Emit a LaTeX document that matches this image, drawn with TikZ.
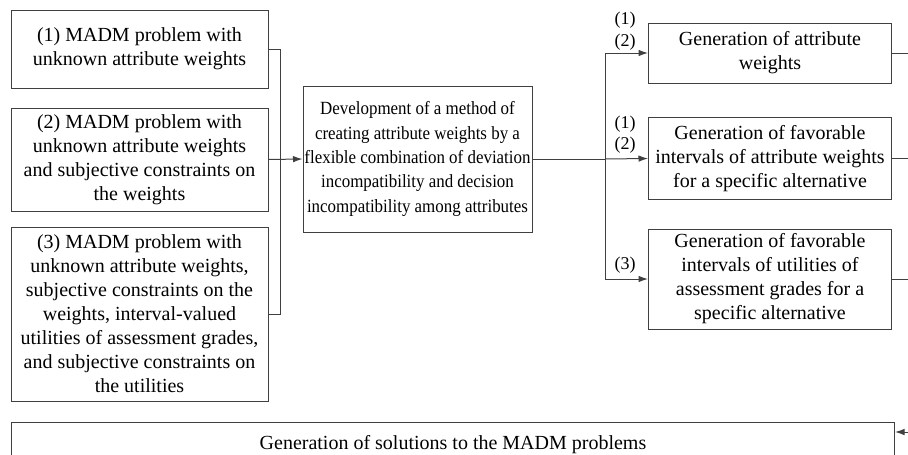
\documentclass[tikz,border=0pt]{standalone}
\usepackage{fontspec}
\setmainfont{Liberation Serif}
\newfontfamily\condserif[FakeStretch=0.91]{Liberation Serif}
\usetikzlibrary{arrows.meta,calc}
\begin{document}
\begin{tikzpicture}[x=1pt,y=-1pt,
  box/.style={draw=black!75,line width=1pt,align=center,inner xsep=1pt,inner ysep=2pt,
    font=\fontsize{20}{24}\selectfont},
  midbox/.style={box,font=\condserif\fontsize{18.6}{24.3}\selectfont,inner xsep=0pt},
  conn/.style={draw=black!75,line width=1pt},
  arr/.style={conn,-{Latex[length=9.5pt,width=6.5pt]}},
  lbl/.style={font=\fontsize{18}{20}\selectfont,inner sep=0pt}]
\useasboundingbox (0,0) rectangle (908,455);
\node[box,minimum width=257pt,minimum height=78pt] (b1) at (139.5,49)
  {(1) MADM problem with\\unknown attribute weights};
\node[box,minimum width=257pt,minimum height=103pt] (b2) at (139.5,159.5)
  {(2) MADM problem with\\unknown attribute weights\\and subjective constraints on\\the weights};
\node[box,minimum width=257pt,minimum height=174pt] (b3) at (139.5,314)
  {(3) MADM problem with\\unknown attribute weights,\\subjective constraints on the\\weights, interval-valued\\utilities of assessment grades,\\and subjective constraints on\\the utilities};
\node[midbox,minimum width=229pt,minimum height=146pt] (mid) at (417.5,159)
  {Development of a method of\\creating attribute weights by a\\flexible combination of deviation\\incompatibility and decision\\incompatibility among attributes};
\node[box,minimum width=243pt,minimum height=60pt] (r1) at (770,53)
  {Generation of attribute\\weights};
\node[box,minimum width=243pt,minimum height=82pt] (r2) at (770,158.5)
  {Generation of favorable\\intervals of attribute weights\\for a specific alternative};
\node[box,minimum width=243pt,minimum height=100pt] (r3) at (770,279)
  {Generation of favorable\\intervals of utilities of\\assessment grades for a\\specific alternative};
\node[box,minimum width=883pt,minimum height=48pt,anchor=north west] (bot) at (11,422)
  {\raisebox{9pt}{Generation of solutions to the MADM problems}};
% left bracket
\coordinate (jx) at (280,49);
\draw[conn] (b1.east) -- (jx) |- (b3.east);
\draw[arr] (b2.east) -- (mid.west);
% right split
\coordinate (sp) at (605,159);
\draw[conn] (mid.east) -- (sp);
\draw[arr] (sp) |- (r1.west);
\draw[arr] (sp) -- (r2.west);
\draw[arr] (sp) |- (r3.west);
% labels
\node[lbl] (l1a) at (625,20) {(1)};
\node[lbl] (l1b) at (625,42) {(2)};
\node[lbl] (l2a) at (625,124) {(1)};
\node[lbl] (l2b) at (625,145) {(2)};
\node[lbl] (l3) at (625,265) {(3)};
% outputs to the right edge
\coordinate (edge) at (915,0);
\draw[conn] (r1.east) -- (r1.east -| edge);
\draw[conn] (r2.east) -- (r2.east -| edge);
\draw[conn] (r3.east) -- (r3.east -| edge);
\coordinate (bin) at (915,432);
\draw[arr] (bin) -- (bin -| bot.east);
\end{tikzpicture}
\end{document}
